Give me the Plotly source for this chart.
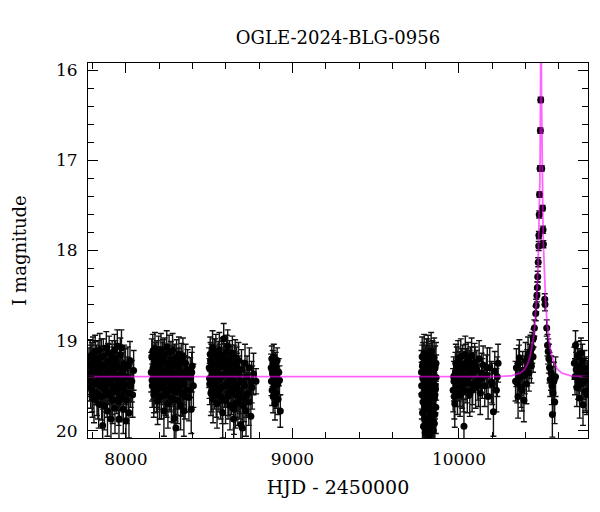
import plotly.graph_objects as go

TITLE = "OGLE-2024-BLG-0956"
X_TITLE = "HJD - 2450000"
Y_TITLE = "I magnitude"
X_TICKS = [8000, 9000, 10000]
X_TICK_LABELS = ["8000", "9000", "10000"]
Y_TICKS = [16, 17, 18, 19, 20]

# (HJD-2450000, I mag, error), per observing season
season1 = [
    (7778, 19.28, 0.20), (7781, 19.45, 0.22), (7785, 19.18, 0.19), (7788, 19.52, 0.23),
    (7792, 19.35, 0.21), (7795, 19.22, 0.20), (7799, 19.60, 0.25), (7802, 19.15, 0.19),
    (7806, 19.42, 0.22), (7808, 19.65, 0.26), (7812, 19.30, 0.21), (7815, 19.12, 0.18),
    (7819, 19.48, 0.23), (7822, 19.25, 0.20), (7826, 19.58, 0.25), (7829, 19.38, 0.22),
    (7833, 19.20, 0.20), (7836, 19.70, 0.27), (7840, 19.33, 0.21), (7843, 19.10, 0.18),
    (7847, 19.50, 0.24), (7850, 19.27, 0.21), (7854, 19.62, 0.26), (7857, 19.40, 0.22),
    (7860, 19.94, 0.30), (7864, 19.17, 0.19), (7868, 19.45, 0.23), (7871, 19.72, 0.27),
    (7875, 19.30, 0.21), (7878, 19.55, 0.24), (7882, 19.08, 0.18), (7885, 19.36, 0.22),
    (7889, 19.78, 0.28), (7892, 19.23, 0.20), (7896, 19.47, 0.23), (7899, 19.14, 0.19),
    (7903, 19.60, 0.25), (7906, 19.32, 0.21), (7910, 19.87, 0.29), (7913, 19.42, 0.22),
    (7917, 19.19, 0.19), (7920, 19.66, 0.26), (7924, 19.28, 0.21), (7927, 19.52, 0.24),
    (7931, 19.11, 0.18), (7934, 19.75, 0.28), (7938, 19.38, 0.22), (7941, 19.24, 0.20),
    (7945, 19.56, 0.25), (7948, 19.06, 0.18), (7952, 19.44, 0.23), (7955, 19.68, 0.26),
    (7958, 19.87, 0.29), (7962, 19.30, 0.21), (7966, 19.16, 0.19), (7969, 19.50, 0.24),
    (7973, 19.08, 0.20), (7976, 19.62, 0.26), (7980, 19.35, 0.22), (7984, 19.76, 0.27),
    (7989, 19.26, 0.21), (7994, 19.48, 0.23), (8000, 19.89, 0.30), (8007, 19.40, 0.22),
    (8015, 19.58, 0.25), (8018, 19.80, 0.28), (8024, 19.22, 0.21), (8035, 19.45, 0.23),
    (8046, 19.33, 0.22),
    (7780, 19.40, 0.22), (7790, 19.26, 0.21), (7797, 19.55, 0.24), (7804, 19.33, 0.22),
    (7817, 19.21, 0.20), (7824, 19.46, 0.23), (7831, 19.62, 0.25), (7838, 19.30, 0.21),
    (7845, 19.38, 0.22), (7852, 19.18, 0.20), (7862, 19.52, 0.24), (7873, 19.27, 0.21),
    (7880, 19.44, 0.23), (7887, 19.60, 0.25), (7894, 19.35, 0.22), (7901, 19.24, 0.20),
    (7908, 19.48, 0.23), (7915, 19.57, 0.25), (7922, 19.32, 0.21), (7929, 19.41, 0.22),
    (7936, 19.20, 0.20), (7943, 19.50, 0.24), (7950, 19.29, 0.21), (7960, 19.64, 0.26),
    (7971, 19.37, 0.22), (7978, 19.45, 0.23), (7986, 19.55, 0.24), (7997, 19.31, 0.22),
    (8004, 19.66, 0.26), (8011, 19.28, 0.21), (8028, 19.50, 0.24), (8040, 19.60, 0.25),
]

season2 = [
    (8152, 19.35, 0.22), (8155, 19.18, 0.20), (8158, 19.50, 0.24), (8161, 19.12, 0.19),
    (8164, 19.42, 0.23), (8167, 19.60, 0.25), (8170, 19.26, 0.21), (8174, 19.09, 0.18),
    (8177, 19.47, 0.23), (8180, 19.30, 0.21), (8183, 19.55, 0.24), (8186, 19.20, 0.20),
    (8190, 19.67, 0.26), (8193, 19.38, 0.22), (8196, 19.14, 0.19), (8200, 19.52, 0.24),
    (8203, 19.28, 0.21), (8206, 19.44, 0.23), (8210, 19.10, 0.18), (8213, 19.62, 0.25),
    (8216, 19.33, 0.22), (8220, 19.22, 0.20), (8224, 19.48, 0.23), (8228, 19.78, 0.28),
    (8231, 19.16, 0.19), (8235, 19.40, 0.22), (8238, 19.58, 0.25), (8242, 19.25, 0.21),
    (8245, 19.07, 0.18), (8249, 19.45, 0.23), (8252, 19.70, 0.27), (8256, 19.31, 0.21),
    (8259, 19.13, 0.19), (8263, 19.53, 0.24), (8266, 19.36, 0.22), (8270, 19.21, 0.20),
    (8273, 19.64, 0.26), (8277, 19.42, 0.22), (8280, 19.11, 0.19), (8284, 19.49, 0.24),
    (8287, 19.27, 0.21), (8290, 19.86, 0.29), (8294, 19.37, 0.22), (8297, 19.57, 0.25),
    (8300, 19.97, 0.31), (8304, 19.19, 0.20), (8307, 19.44, 0.23), (8311, 19.66, 0.26),
    (8314, 19.29, 0.21), (8318, 19.15, 0.19), (8321, 19.51, 0.24), (8325, 19.34, 0.22),
    (8328, 19.72, 0.27), (8332, 19.23, 0.20), (8335, 19.46, 0.23), (8339, 19.59, 0.25),
    (8342, 19.17, 0.20), (8348, 19.78, 0.28), (8352, 19.39, 0.22), (8358, 19.25, 0.21),
    (8364, 19.55, 0.24), (8370, 19.32, 0.22), (8378, 19.63, 0.26), (8386, 19.41, 0.22),
    (8392, 19.76, 0.27), (8398, 19.28, 0.21), (8405, 19.50, 0.24),
    (8157, 19.44, 0.23), (8163, 19.30, 0.21), (8169, 19.56, 0.24), (8176, 19.22, 0.20),
    (8182, 19.38, 0.22), (8188, 19.50, 0.24), (8195, 19.28, 0.21), (8202, 19.62, 0.25),
    (8208, 19.35, 0.22), (8215, 19.46, 0.23), (8222, 19.19, 0.20), (8230, 19.53, 0.24),
    (8237, 19.33, 0.22), (8244, 19.60, 0.25), (8251, 19.26, 0.21), (8258, 19.42, 0.22),
    (8265, 19.55, 0.24), (8272, 19.31, 0.21), (8279, 19.48, 0.23), (8286, 19.65, 0.26),
    (8293, 19.24, 0.20), (8302, 19.39, 0.22), (8309, 19.52, 0.24), (8316, 19.30, 0.21),
    (8323, 19.45, 0.23), (8330, 19.58, 0.25), (8337, 19.36, 0.22), (8345, 19.48, 0.23),
    (8355, 19.62, 0.25), (8367, 19.40, 0.22), (8382, 19.55, 0.24), (8395, 19.35, 0.22),
]

season3 = [
    (8500, 19.30, 0.22), (8503, 19.48, 0.23), (8506, 19.15, 0.19), (8510, 19.58, 0.25),
    (8513, 19.24, 0.20), (8516, 19.40, 0.22), (8520, 19.08, 0.19), (8523, 19.65, 0.26),
    (8526, 19.33, 0.21), (8530, 19.18, 0.20), (8533, 19.52, 0.24), (8537, 19.27, 0.21),
    (8540, 19.12, 0.19), (8544, 19.45, 0.23), (8547, 19.70, 0.27), (8551, 19.36, 0.22),
    (8554, 19.21, 0.20), (8558, 19.55, 0.24), (8561, 19.10, 0.19), (8565, 19.42, 0.23),
    (8568, 19.62, 0.25), (8572, 19.29, 0.21), (8575, 19.16, 0.19), (8581, 19.80, 0.28),
    (8584, 19.38, 0.22), (8587, 18.98, 0.17), (8591, 19.50, 0.24), (8594, 19.23, 0.20),
    (8598, 19.66, 0.26), (8601, 19.35, 0.22), (8605, 19.13, 0.19), (8608, 19.47, 0.23),
    (8611, 19.06, 0.18), (8615, 19.58, 0.25), (8618, 19.31, 0.21), (8622, 19.20, 0.20),
    (8625, 19.72, 0.27), (8629, 19.41, 0.22), (8632, 19.26, 0.21), (8636, 19.53, 0.24),
    (8639, 19.14, 0.19), (8643, 19.44, 0.23), (8647, 19.87, 0.29), (8649, 19.76, 0.28),
    (8653, 19.34, 0.22), (8656, 19.19, 0.20), (8660, 19.60, 0.25), (8664, 19.28, 0.21),
    (8668, 19.49, 0.24), (8672, 19.68, 0.26), (8676, 19.22, 0.20), (8680, 19.39, 0.22),
    (8685, 19.56, 0.25), (8690, 19.93, 0.30), (8694, 19.32, 0.22), (8699, 19.97, 0.31),
    (8704, 19.46, 0.23), (8709, 19.64, 0.26), (8715, 19.25, 0.21), (8721, 19.78, 0.28),
    (8727, 19.40, 0.23), (8734, 19.58, 0.25), (8741, 19.30, 0.22), (8750, 19.84, 0.29),
    (8758, 19.52, 0.24), (8766, 19.37, 0.23), (8781, 19.45, 0.14),
    (8502, 19.42, 0.22), (8508, 19.22, 0.20), (8515, 19.55, 0.24), (8522, 19.35, 0.22),
    (8528, 19.48, 0.23), (8535, 19.18, 0.20), (8542, 19.60, 0.25), (8549, 19.30, 0.21),
    (8556, 19.44, 0.23), (8563, 19.25, 0.21), (8570, 19.52, 0.24), (8578, 19.66, 0.26),
    (8586, 19.20, 0.20), (8593, 19.38, 0.22), (8600, 19.50, 0.24), (8607, 19.28, 0.21),
    (8613, 19.62, 0.25), (8620, 19.40, 0.22), (8627, 19.33, 0.22), (8634, 19.57, 0.25),
    (8641, 19.45, 0.23), (8651, 19.26, 0.21), (8658, 19.70, 0.27), (8666, 19.36, 0.22),
    (8674, 19.55, 0.24), (8682, 19.62, 0.25), (8692, 19.45, 0.23), (8702, 19.72, 0.27),
    (8712, 19.50, 0.24), (8724, 19.60, 0.25), (8738, 19.68, 0.26), (8755, 19.46, 0.23),
]

season4 = [
    (8872, 19.30, 0.15), (8874, 19.45, 0.16), (8876, 19.20, 0.14), (8878, 19.55, 0.17),
    (8880, 19.36, 0.15), (8882, 19.25, 0.14), (8884, 19.62, 0.18), (8886, 19.40, 0.15),
    (8888, 19.18, 0.14), (8890, 19.50, 0.16), (8892, 19.33, 0.15), (8895, 19.70, 0.18),
    (8897, 19.42, 0.16), (8899, 19.28, 0.15), (8902, 19.58, 0.17), (8905, 19.38, 0.15),
    (8908, 19.22, 0.14), (8911, 19.48, 0.16), (8914, 19.65, 0.17), (8918, 19.35, 0.15),
    (8922, 19.44, 0.16), (8927, 19.78, 0.18),
]

season5 = [
    (9775, 19.35, 0.24), (9777, 19.60, 0.27), (9779, 19.18, 0.22), (9781, 19.80, 0.30),
    (9783, 19.42, 0.25), (9785, 19.25, 0.23), (9787, 19.95, 0.33), (9789, 19.50, 0.26),
    (9791, 19.14, 0.21), (9793, 19.70, 0.28), (9795, 19.38, 0.24), (9797, 20.02, 0.34),
    (9799, 19.28, 0.23), (9801, 19.56, 0.27), (9803, 19.88, 0.31), (9805, 19.20, 0.22),
    (9807, 19.45, 0.25), (9809, 19.66, 0.28), (9811, 19.32, 0.24), (9813, 19.92, 0.32),
    (9815, 19.16, 0.22), (9817, 19.52, 0.26), (9819, 19.76, 0.29), (9821, 19.40, 0.25),
    (9823, 20.05, 0.35), (9825, 19.26, 0.23), (9827, 19.62, 0.27), (9829, 19.84, 0.30),
    (9831, 19.36, 0.24), (9833, 19.12, 0.21), (9835, 19.58, 0.27), (9837, 19.97, 0.33),
    (9839, 19.44, 0.25), (9841, 19.22, 0.22), (9843, 19.72, 0.29), (9845, 19.34, 0.24),
    (9847, 19.90, 0.32), (9849, 19.48, 0.26), (9851, 19.19, 0.22), (9853, 19.64, 0.28),
    (9855, 19.82, 0.30), (9857, 19.30, 0.24), (9859, 19.54, 0.26), (9861, 19.74, 0.29),
    (9863, 19.41, 0.25), (9784, 19.68, 0.28), (9794, 19.86, 0.31), (9806, 19.99, 0.34),
    (9816, 19.30, 0.24), (9826, 19.78, 0.30), (9836, 19.24, 0.23), (9846, 20.00, 0.34),
    (9856, 19.60, 0.27),
    (9776, 19.50, 0.26), (9780, 19.28, 0.23), (9788, 19.62, 0.27), (9792, 19.42, 0.25),
    (9798, 19.75, 0.29), (9802, 19.35, 0.24), (9808, 19.55, 0.26), (9812, 19.20, 0.22),
    (9818, 19.48, 0.26), (9822, 19.68, 0.28), (9828, 19.38, 0.24), (9832, 19.85, 0.31),
    (9838, 19.45, 0.25), (9842, 19.60, 0.27), (9848, 19.32, 0.24), (9852, 19.92, 0.32),
    (9858, 19.50, 0.26), (9862, 19.25, 0.23),
]

season6 = [
    (9965, 19.55, 0.24), (9968, 19.40, 0.22), (9972, 19.62, 0.25), (9975, 19.70, 0.26),
    (9979, 19.35, 0.22), (9983, 19.50, 0.23), (9987, 19.28, 0.21), (9991, 19.58, 0.24),
    (9995, 19.20, 0.20), (9999, 19.45, 0.22), (10003, 19.33, 0.21), (10007, 19.60, 0.24),
    (10011, 19.18, 0.20), (10015, 19.42, 0.22), (10019, 19.52, 0.23), (10023, 19.26, 0.21),
    (10030, 19.95, 0.30), (10034, 19.38, 0.22), (10038, 19.15, 0.20), (10042, 19.47, 0.22),
    (10046, 19.30, 0.21), (10050, 19.56, 0.24), (10055, 19.22, 0.20), (10060, 19.40, 0.22),
    (10065, 19.60, 0.24), (10070, 19.28, 0.21), (10076, 19.17, 0.20), (10082, 19.48, 0.23),
    (10088, 19.35, 0.22), (10094, 19.24, 0.21), (10100, 19.52, 0.23), (10107, 19.32, 0.21),
    (10114, 19.44, 0.22), (10121, 19.20, 0.20), (10128, 19.58, 0.24), (10136, 19.36, 0.22),
    (10145, 19.27, 0.21), (10155, 19.50, 0.23), (10165, 19.38, 0.22), (10175, 19.62, 0.25),
    (10185, 19.30, 0.22), (10195, 19.46, 0.23), (10207, 19.79, 0.27), (10215, 19.34, 0.22),
    (10225, 19.55, 0.24), (10235, 19.25, 0.21),
    (9970, 19.45, 0.22), (9981, 19.25, 0.21), (9993, 19.38, 0.22), (10005, 19.50, 0.23),
    (10017, 19.30, 0.21), (10027, 19.55, 0.24), (10040, 19.25, 0.21), (10052, 19.42, 0.22),
    (10063, 19.33, 0.22), (10079, 19.55, 0.24), (10097, 19.28, 0.21), (10117, 19.50, 0.23),
    (10140, 19.42, 0.22), (10170, 19.30, 0.22), (10200, 19.48, 0.23), (10230, 19.40, 0.22),
]

season7 = [
    (10340, 19.45, 0.22), (10345, 19.30, 0.21), (10350, 19.47, 0.22), (10355, 19.62, 0.24),
    (10360, 19.25, 0.20), (10363, 19.19, 0.20), (10368, 19.40, 0.21), (10373, 19.52, 0.22),
    (10378, 19.55, 0.23), (10383, 19.33, 0.21), (10390, 19.66, 0.24), (10395, 19.38, 0.21),
    (10400, 19.22, 0.20), (10405, 19.48, 0.22), (10410, 19.30, 0.20), (10415, 19.15, 0.19),
    (10420, 19.36, 0.20), (10425, 19.23, 0.19), (10430, 19.12, 0.18), (10435, 19.28, 0.19),
    (10440, 19.08, 0.17), (10445, 19.18, 0.17),
    (10448, 18.97, 0.10), (10453, 18.86, 0.09), (10461, 18.70, 0.08), (10464, 18.61, 0.07),
    (10468, 18.50, 0.07), (10471, 18.41, 0.06), (10473, 18.29, 0.06), (10476, 18.13, 0.05),
    (10479, 17.95, 0.05), (10480, 17.83, 0.04), (10482, 17.60, 0.04), (10484, 17.38, 0.03),
    (10487, 17.09, 0.03), (10489, 16.67, 0.03), (10491, 16.33, 0.03), (10497, 17.09, 0.03),
    (10502, 17.53, 0.03), (10505, 17.77, 0.04), (10507, 17.93, 0.04), (10515, 18.54, 0.06),
    (10517, 18.60, 0.07), (10527, 18.86, 0.09), (10532, 19.05, 0.12), (10536, 19.12, 0.14),
    (10540, 19.20, 0.16), (10544, 19.30, 0.17), (10548, 19.43, 0.19), (10553, 19.36, 0.19),
    (10558, 19.50, 0.21), (10561, 19.82, 0.25), (10565, 19.58, 0.22), (10570, 19.45, 0.21),
    (10575, 19.68, 0.24), (10580, 19.40, 0.22),
]

season8 = [
    (10693, 19.25, 0.18), (10697, 19.40, 0.20), (10700, 19.05, 0.16), (10704, 19.32, 0.19),
    (10708, 19.52, 0.21), (10712, 19.18, 0.17), (10716, 19.45, 0.20), (10720, 19.28, 0.19),
    (10725, 19.64, 0.22), (10729, 19.36, 0.20), (10733, 19.14, 0.17), (10737, 19.48, 0.21),
    (10741, 19.22, 0.18), (10745, 19.71, 0.23), (10750, 19.45, 0.20), (10754, 19.30, 0.19),
    (10758, 19.56, 0.22), (10763, 19.38, 0.20), (10768, 19.60, 0.22), (10772, 19.42, 0.20),
]

# model light curve (HJD-2450000, I mag)
model = [
    (7770, 19.40), (10223, 19.40), (10313, 19.39), (10367, 19.36), (10394, 19.32),
    (10412, 19.26), (10425.5, 19.19), (10439, 19.08), (10448, 18.97), (10457, 18.80),
    (10466, 18.55), (10470.5, 18.38), (10475, 18.17), (10478.6, 17.94), (10481.3, 17.73),
    (10484, 17.46), (10485.8, 17.23), (10487.6, 16.93), (10489.4, 16.53), (10490.3, 16.26),
    (10491.2, 15.93), (10492.1, 15.56), (10493, 15.35), (10493.9, 15.56), (10494.8, 15.93),
    (10495.7, 16.26), (10496.6, 16.53), (10498.4, 16.93), (10500.2, 17.23), (10502, 17.46),
    (10504.7, 17.73), (10507.4, 17.94), (10511, 18.17), (10515.5, 18.38), (10520, 18.55),
    (10529, 18.80), (10538, 18.97), (10547, 19.08), (10560.5, 19.19), (10574, 19.26),
    (10592, 19.32), (10619, 19.36), (10673, 19.39), (10763, 19.40), (10780, 19.40),
]

seasons = [season1, season2, season3, season4, season5, season6, season7, season8]
pts = [p for s in seasons for p in s]
hjd = [p[0] for p in pts]
mag = [p[1] for p in pts]
err = [p[2] for p in pts]
model_hjd = [p[0] for p in model]
model_mag = [p[1] for p in model]

FONT = "DejaVu Serif"

fig = go.Figure()
fig.add_trace(go.Scatter(
    x=hjd, y=mag, mode="markers",
    marker=dict(color="black", size=7),
    error_y=dict(type="data", array=err, visible=True, color="#111111",
                 thickness=1.4, width=3),
    showlegend=False, hoverinfo="skip",
))
fig.add_trace(go.Scatter(
    x=model_hjd, y=model_mag, mode="lines",
    line=dict(color="rgba(255,0,255,0.6)", width=1.8),
    showlegend=False, hoverinfo="skip",
))

axis_common = dict(
    showline=True, linecolor="black", linewidth=1, mirror="allticks",
    ticks="inside", tickcolor="black", ticklen=10, tickwidth=1,
    showgrid=False, zeroline=False, automargin=False,
    tickfont=dict(family=FONT, size=17, color="black"),
)

fig.update_layout(
    width=600, height=512,
    margin=dict(l=80, r=20, t=55, b=82),
    paper_bgcolor="white", plot_bgcolor="white",
    font=dict(family=FONT, size=17, color="black"),
    title=dict(text=TITLE, x=330 / 600, xanchor="center", y=1 - 30 / 512, yanchor="middle",
               font=dict(family=FONT, size=18, color="black")),
    xaxis=dict(
        range=[7772, 10775], tickvals=X_TICKS, ticktext=X_TICK_LABELS,
        minor=dict(ticks="inside", ticklen=6, dtick=200, tick0=8000, tickcolor="black", showgrid=False),
        title=dict(text=X_TITLE, font=dict(family=FONT, size=19), standoff=12),
        ticklabelstandoff=6,
        **axis_common,
    ),
    yaxis=dict(
        range=[20.08, 15.92], tickvals=Y_TICKS,
        minor=dict(ticks="inside", ticklen=6, dtick=0.2, tick0=16, tickcolor="black", showgrid=False),
        title=dict(text=Y_TITLE, font=dict(family=FONT, size=18), standoff=24),
        ticklabelstandoff=6,
        **axis_common,
    ),
)

fig.write_html("out.html")
